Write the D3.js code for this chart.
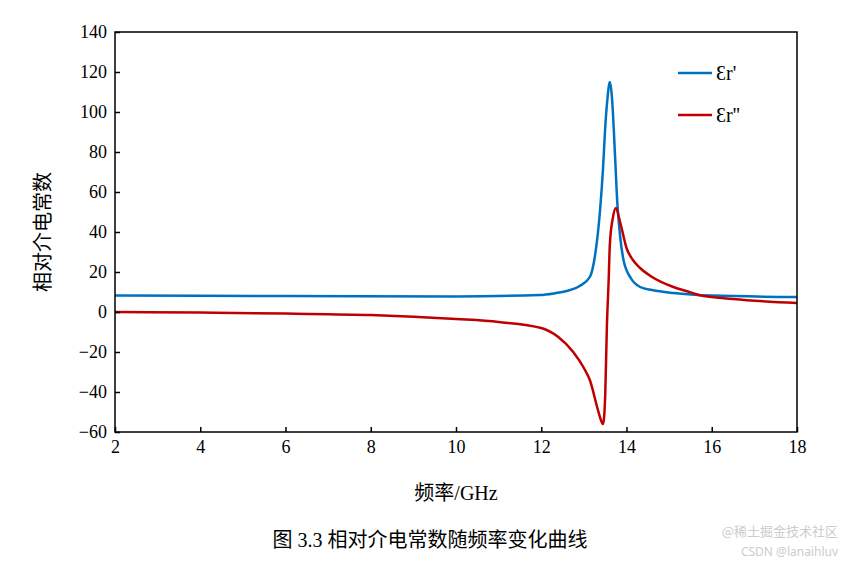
<!DOCTYPE html>
<html><head><meta charset="utf-8">
<script src="https://cdn.jsdelivr.net/npm/d3@7"></script>
<style>body{margin:0;background:#fff}</style>
</head><body><div id="chart"></div>
<script>
// values
const blueF = [2, 6, 10, 11.97, 12.3, 12.6, 12.9, 13.14, 13.26, 13.38, 13.45, 13.5, 13.55, 13.61, 13.66, 13.7, 13.74, 13.78, 13.85, 13.93, 14.1, 14.32, 14.6, 15.1, 16, 18];
const blueV = [8.2, 8, 7.8, 8.5, 9.3, 10.5, 13, 17.5, 28, 51, 72, 92, 106, 115, 107, 92, 74, 56, 38, 26, 17, 12.5, 11, 9.5, 8.2, 7.5];
const redF = [2, 4, 6, 8, 10, 11, 12, 12.4, 12.75, 13.0, 13.14, 13.33, 13.4, 13.45, 13.5, 13.54, 13.58, 13.61, 13.68, 13.75, 13.85, 14.0, 14.15, 14.32, 14.6, 15.1, 15.4, 15.7, 16.5, 18];
const redV = [0, -0.3, -0.8, -1.5, -3.5, -5, -8, -12.5, -20, -28, -34, -49, -54, -56, -42, -7, 15, 34, 47, 52, 45, 32, 26, 22, 17.5, 12.5, 10.5, 8.5, 6.5, 4.5];
const xTicks = [2, 4, 6, 8, 10, 12, 14, 16, 18];
const yTicks = [-60, -40, -20, 0, 20, 40, 60, 80, 100, 120, 140];
const legendNames = ["Ɛr'", "Ɛr''"];
const colors = ["#0070c0", "#c00000"];

const W = 849, H = 561;
const svg = d3.select("#chart").append("svg").attr("width", W).attr("height", H)
    .style("font-family", "'Liberation Serif', serif");

const x = d3.scaleLinear().domain([2, 18]).range([115, 797]);
const y = d3.scaleLinear().domain([-60, 140]).range([432, 32]);

const line = d3.line().x(d => x(d[0])).y(d => y(d[1])).curve(d3.curveMonotoneX);
const series = [d3.zip(blueF, blueV), d3.zip(redF, redV)];

series.forEach((s, i) => {
    svg.append("path").datum(s).attr("d", line).attr("fill", "none")
        .attr("stroke", colors[i]).attr("stroke-width", 2.5).attr("stroke-linejoin", "round");
});

svg.append("rect").attr("x", 115).attr("y", 32).attr("width", 682).attr("height", 400)
    .attr("fill", "none").attr("stroke", "#000").attr("stroke-width", 1.5);

const xAxis = svg.append("g").attr("transform", "translate(0,432)")
    .call(d3.axisBottom(x).tickValues(xTicks).tickSizeInner(-5).tickSizeOuter(0).tickPadding(8));
const yAxis = svg.append("g").attr("transform", "translate(115,0)")
    .call(d3.axisLeft(y).tickValues(yTicks).tickSizeInner(-5).tickSizeOuter(0).tickPadding(8));
[xAxis, yAxis].forEach(a => {
    a.selectAll("path").remove();
    a.selectAll("line").attr("stroke", "#000").attr("stroke-width", 1.5);
    a.selectAll("text").attr("font-size", 18).attr("fill", "#000")
        .style("font-family", "'Liberation Serif', serif");
});

svg.append("text").attr("x", 456).attr("y", 500).attr("text-anchor", "middle")
    .attr("font-size", 20).style("font-family", "'Liberation Serif','Noto Sans CJK SC'").text("频率/GHz");
svg.append("text").attr("transform", "translate(50,232) rotate(-90)").attr("text-anchor", "middle")
    .attr("font-size", 20).style("font-family", "'Noto Sans CJK SC'").text("相对介电常数");

legendNames.forEach((n, i) => {
    const ly = 73 + i * 42;
    svg.append("line").attr("x1", 678).attr("x2", 712).attr("y1", ly).attr("y2", ly)
        .attr("stroke", colors[i]).attr("stroke-width", 2.5);
    svg.append("text").attr("x", 716).attr("y", ly + 7).attr("font-size", 20).text(n);
});

svg.append("text").attr("x", 430).attr("y", 547).attr("text-anchor", "middle")
    .attr("font-size", 20).style("font-family", "'Liberation Serif','Noto Sans CJK SC'")
    .text("图 3.3  相对介电常数随频率变化曲线");
svg.append("text").attr("x", 838).attr("y", 536).attr("text-anchor", "end").attr("fill", "#ccc")
    .attr("font-size", 13).style("font-family", "'Noto Sans CJK SC'").text("@稀土掘金技术社区");
svg.append("text").attr("x", 838).attr("y", 556).attr("text-anchor", "end").attr("fill", "#ccc")
    .attr("font-size", 12).style("font-family", "'Noto Sans'").text("CSDN @lanaihluv");
</script></body></html>
